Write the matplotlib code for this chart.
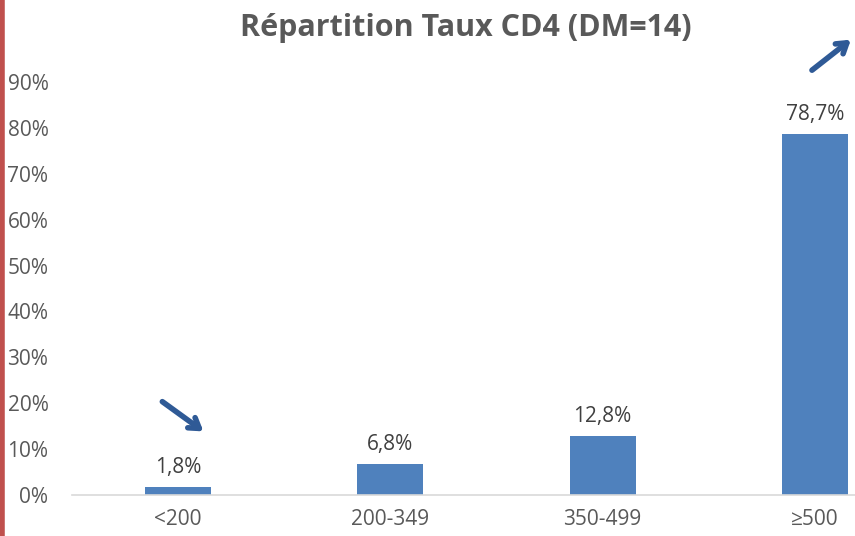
import matplotlib.pyplot as plt
import numpy as np

categories = ['<200', '200-349', '350-499', '≥500']
values = [1.8, 6.8, 12.8, 78.7]
labels = ['1,8%', '6,8%', '12,8%', '78,7%']
yticks = [0, 10, 20, 30, 40, 50, 60, 70, 80, 90]

plt.rcParams['font.family'] = ['Open Sans', 'DejaVu Sans']

fig = plt.figure(figsize=(8.55, 5.36), dpi=100)
ax = fig.add_axes([0.0842, 0.0765, 0.993, 0.7705])

x = np.arange(len(categories))
ax.bar(x, values, width=0.31, color='#4F81BD', zorder=2)
for xi, v, lab in zip(x, values, labels):
    ax.text(xi, v + 2.0, lab, ha='center', va='bottom', fontsize=15, color='#404040')

ax.set_xlim(-0.5, 3.5)
ax.set_ylim(0, 90)
ax.set_yticks(yticks)
ax.set_yticklabels([str(t) + '%' for t in yticks])
ax.set_xticks(x)
ax.set_xticklabels(categories)
ax.tick_params(length=0, labelsize=15, colors='#595959')
ax.tick_params(axis='y', pad=17)
ax.tick_params(axis='x', pad=10)
for s in ['top', 'right', 'left']:
    ax.spines[s].set_visible(False)
ax.spines['bottom'].set_color('#D9D9D9')
ax.spines['bottom'].set_linewidth(1.2)

# arrows
arrow_kw = dict(arrowstyle='->,head_length=0.7,head_width=0.45', color='#2F5A96', lw=4)
ax.annotate('', xy=(0.13, 13.5), xytext=(-0.085, 20.7), arrowprops=arrow_kw, annotation_clip=False)
ax.annotate('', xy=(3.18, 99.6), xytext=(2.976, 92.2), arrowprops=arrow_kw, annotation_clip=False)

fig.text(0.545, 0.948, 'Répartition Taux CD4 (DM=14)', ha='center', va='center',
         fontsize=22, fontweight='bold', color='#595959')

# red bar on left edge
fig.add_artist(plt.Line2D([0.0025, 0.0025], [0, 1], color='#C0504D', lw=4, transform=fig.transFigure))

fig.savefig('out.png', dpi=100)
